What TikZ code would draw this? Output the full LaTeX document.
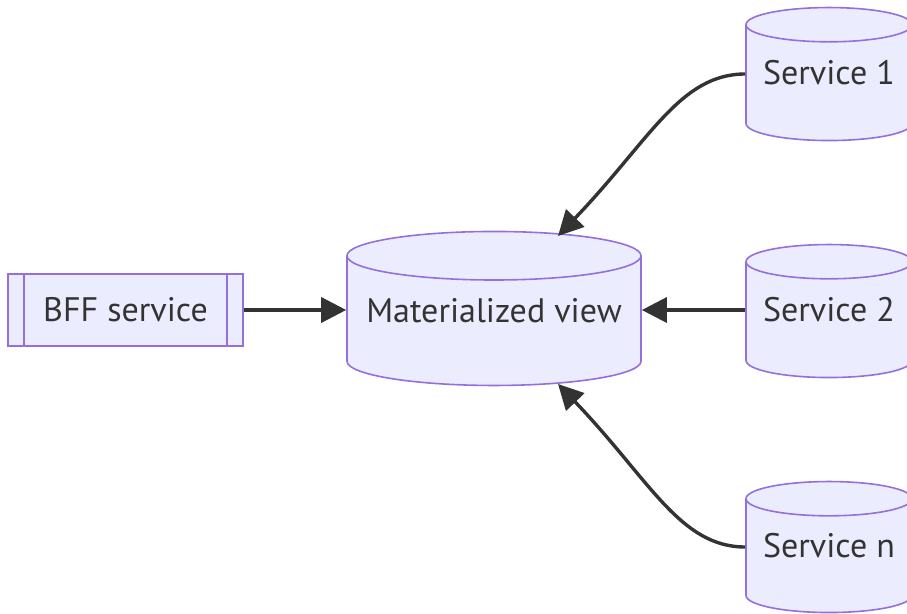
\documentclass[tikz,border=0pt]{standalone}
\usepackage{fontspec}
\setmainfont{PT Sans}
\usetikzlibrary{arrows.meta,shapes.geometric}
\definecolor{mmfill}{HTML}{ECECFF}
\definecolor{mmline}{HTML}{9370DB}
\definecolor{mmedge}{HTML}{333333}
\tikzset{>={Triangle[width=25pt,length=25pt]}}
\tikzset{
  db/.style={cylinder, shape border rotate=90, draw=mmline, fill=mmfill,
    line width=1.6pt, inner sep=0pt, text=mmedge},
  subproc/.style={rectangle, draw=mmline, fill=mmfill, line width=1.6pt,
    minimum width=235pt, minimum height=72pt, inner sep=0pt, text=mmedge},
  flow/.style={->, draw=mmedge, line width=3.4pt}
}
% labels sit a bit above the body centre of a cylinder
\newcommand\dblabel[1]{\raisebox{10pt}[\height][\depth]{#1}}

\begin{document}
\begin{tikzpicture}[x=1pt, y=-1pt]

  \fontsize{34}{40}\selectfont

  \useasboundingbox (0,0) rectangle (907,613);

  % storage nodes
  \node[db, minimum width=294pt, minimum height=154pt, aspect=0.19] (mview) at (494,321) {\dblabel{Materialized view}};
  \node[db, minimum width=166pt, minimum height=133pt, aspect=0.26] (svcA) at (829,83) {\dblabel{Service 1}};
  \node[db, minimum width=166pt, minimum height=133pt, aspect=0.26] (svcB) at (829,320) {\dblabel{Service 2}};
  \node[db, minimum width=166pt, minimum height=131pt, aspect=0.26] (svcN) at (829,556) {\dblabel{Service n}};

  % subroutine box with the two side bars
  \node[subproc] (bff) at (125.5,310) {BFF service};
  \draw[mmline, line width=1.6pt] ([xshift=17pt]bff.north west) -- ([xshift=17pt]bff.south west);
  \draw[mmline, line width=1.6pt] ([xshift=-17pt]bff.north east) -- ([xshift=-17pt]bff.south east);

  \draw[flow] (bff.east) -- (bff.east -| mview.west); % BFF->view
  \draw[flow] (svcB.west |- 0,310) -- (mview.east |- 0,310); % 2->view

  \draw[flow] (svcA.west |- 0,74) .. controls (680,74) and (650,140) .. (558,236); %% 1->view
  \draw[flow] (svcN.west |- 0,547) .. controls (680,547) and (650,480) .. (558,384); %% n->view

\end{tikzpicture}
\end{document}
